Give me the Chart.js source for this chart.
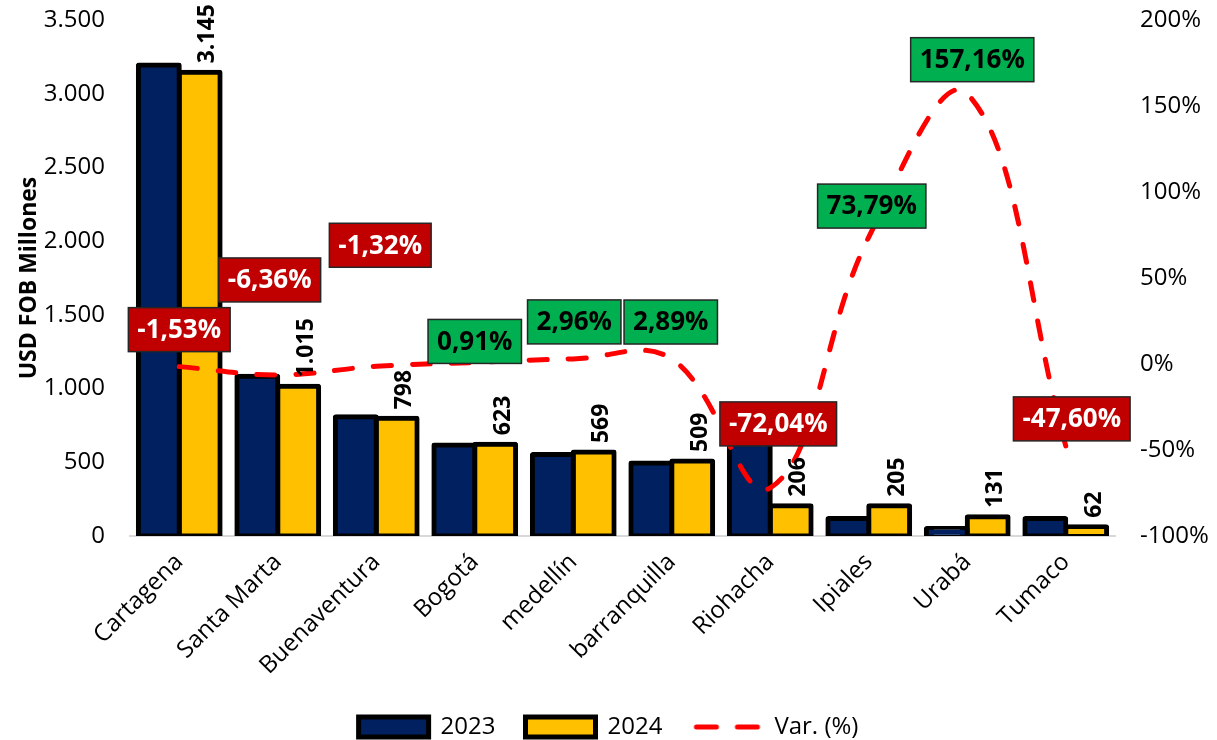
<!DOCTYPE html>
<html>
<head>
<meta charset="utf-8">
<script src="https://cdn.jsdelivr.net/npm/chart.js@4.4.1/dist/chart.umd.min.js"></script>
<style>
html,body{margin:0;padding:0;background:#fff;}
#wrap{width:1217px;height:740px;}
</style>
</head>
<body>
<div id="wrap"><canvas id="c" width="1217" height="740"></canvas></div>
<script>
// ---- data ----
const categories = ['Cartagena', 'Santa Marta', 'Buenaventura', 'Bogotá', 'medellín', 'barranquilla', 'Riohacha', 'Ipiales', 'Urabá', 'Tumaco'];
const values2023 = [3194, 1084, 809, 617, 553, 495, 737, 118, 51, 118];
const values2024 = [3145, 1015, 798, 623, 569, 509, 206, 205, 131, 62];
const variation = [-1.53, -6.36, -1.32, 0.91, 2.96, 2.89, -72.04, 73.79, 157.16, -47.60];
const leftTickValues = [0, 500, 1000, 1500, 2000, 2500, 3000, 3500];
const rightTickValues = [-100, -50, 0, 50, 100, 150, 200];
const seriesNames = ['2023', '2024', 'Var. (%)'];

// label placement (pixel offsets of the variation boxes from their point)
const varLabelOffsets = [[0,-37],[-8,-95],[4,-121],[0,-21],[1,-37],[-1,-37],[8,-64],[3,-31],[5,-34],[6,-27]];

const FONT = "'Open Sans', 'Noto Sans', sans-serif";
Chart.defaults.font.family = FONT;
Chart.defaults.color = '#000';

const LINE_COLOR = '#FF0000';
const LINE_WIDTH = 5;
const LINE_DASH = [18, 21];

function fmtThousands(n){ return String(Math.round(n)).replace(/\B(?=(\d{3})+(?!\d))/g, '.'); }
function fmtPct(v){ return v.toFixed(2).replace('.', ',') + '%'; }

// legend symbol for the dashed line
const dashIcon = document.createElement('canvas');
dashIcon.width = 70; dashIcon.height = 10;
(function(){
  const g = dashIcon.getContext('2d');
  g.strokeStyle = LINE_COLOR; g.lineWidth = LINE_WIDTH; g.lineCap = 'round';
  g.setLineDash([20, 21]);
  g.beginPath(); g.moveTo(4, 5); g.lineTo(68, 5); g.stroke();
})();

const labelPlugin = {
  id: 'customLabels',
  afterDatasetsDraw(chart){
    const ctx = chart.ctx;
    ctx.save();
    // 2024 value labels (vertical)
    const meta = chart.getDatasetMeta(1);
    ctx.font = "bold 23px " + FONT;
    ctx.fillStyle = '#000';
    meta.data.forEach((bar, i) => {
      ctx.save();
      ctx.translate(bar.x + 8, bar.y - 9);
      ctx.rotate(-Math.PI / 2);
      ctx.textAlign = 'left';
      ctx.textBaseline = 'middle';
      ctx.fillText(fmtThousands(values2024[i]), 0, 0);
      ctx.restore();
    });
    // variation boxes
    const lm = chart.getDatasetMeta(2);
    ctx.font = "bold 26px " + FONT;
    lm.data.forEach((pt, i) => {
      const off = varLabelOffsets[i];
      const cx = pt.x + off[0], cy = pt.y + off[1];
      const txt = fmtPct(variation[i]);
      const w = ctx.measureText(txt).width + 18, h = 44;
      const neg = variation[i] < 0;
      ctx.fillStyle = neg ? '#C00000' : '#00B050';
      ctx.fillRect(cx - w/2, cy - h/2, w, h);
      ctx.lineWidth = 1.5;
      ctx.strokeStyle = '#262626';
      ctx.strokeRect(cx - w/2, cy - h/2, w, h);
      ctx.fillStyle = neg ? '#FFFFFF' : '#000000';
      ctx.textAlign = 'center';
      ctx.textBaseline = 'middle';
      ctx.fillText(txt, cx, cy + 1);
    });
    ctx.restore();
  }
};

const barStyle = {
  borderColor: '#000', borderWidth: 5, borderSkipped: false, borderRadius: 3,
  inflateAmount: 2.5, categoryPercentage: 0.83, barPercentage: 1.0
};

new Chart(document.getElementById('c'), {
  data: {
    labels: categories,
    datasets: [
      Object.assign({ type: 'bar', label: seriesNames[0], data: values2023, yAxisID: 'y',
        backgroundColor: '#002060', order: 1, pointStyle: 'rect' }, barStyle),
      Object.assign({ type: 'bar', label: seriesNames[1], data: values2024, yAxisID: 'y',
        backgroundColor: '#FFC000', order: 2, pointStyle: 'rect' }, barStyle),
      {
        type: 'line', label: seriesNames[2], data: variation, yAxisID: 'y1',
        borderColor: LINE_COLOR, backgroundColor: LINE_COLOR, borderWidth: LINE_WIDTH,
        borderDash: LINE_DASH, borderCapStyle: 'round', tension: 0.4,
        pointRadius: 0, pointHoverRadius: 0, fill: false, order: 0, pointStyle: dashIcon
      }
    ]
  },
  options: {
    responsive: false,
    animation: false,
    devicePixelRatio: 1,
    layout: { padding: { top: 20, left: 0, right: 0, bottom: -9 } },
    plugins: {
      tooltip: { enabled: false },
      legend: {
        position: 'bottom',
        labels: {
          usePointStyle: true, pointStyleWidth: 70, boxHeight: 20,
          font: { size: 24 }, color: '#000', padding: 30,
          sort: (a, b) => a.datasetIndex - b.datasetIndex
        }
      }
    },
    scales: {
      x: {
        grid: { display: false },
        border: { display: true, color: '#d9d9d9', width: 2 },
        ticks: { font: { size: 24 }, color: '#000', maxRotation: 45, minRotation: 45, padding: 4 },
        afterFit: s => { s.height = 149; }
      },
      y: {
        position: 'left', min: 0, max: 3500,
        afterBuildTicks: s => { s.ticks = leftTickValues.map(v => ({ value: v })); },
        grid: { display: false, tickLength: 25 }, border: { display: false },
        ticks: { font: { size: 24 }, color: '#000', padding: 0, callback: v => fmtThousands(v) },
        title: { display: true, text: 'USD FOB Millones', font: { size: 23, weight: 'bold' }, color: '#000', padding: { top: 16, bottom: 0 } },
        afterFit: s => { s.width = 130; }
      },
      y1: {
        position: 'right', min: -100, max: 200,
        afterBuildTicks: s => { s.ticks = rightTickValues.map(v => ({ value: v })); },
        grid: { display: false, tickLength: 25 }, border: { display: false },
        ticks: { font: { size: 24 }, color: '#000', padding: 0, callback: v => v + '%' },
        afterFit: s => { s.width = 102; }
      }
    }
  },
  plugins: [labelPlugin]
});
</script>
</body>
</html>
